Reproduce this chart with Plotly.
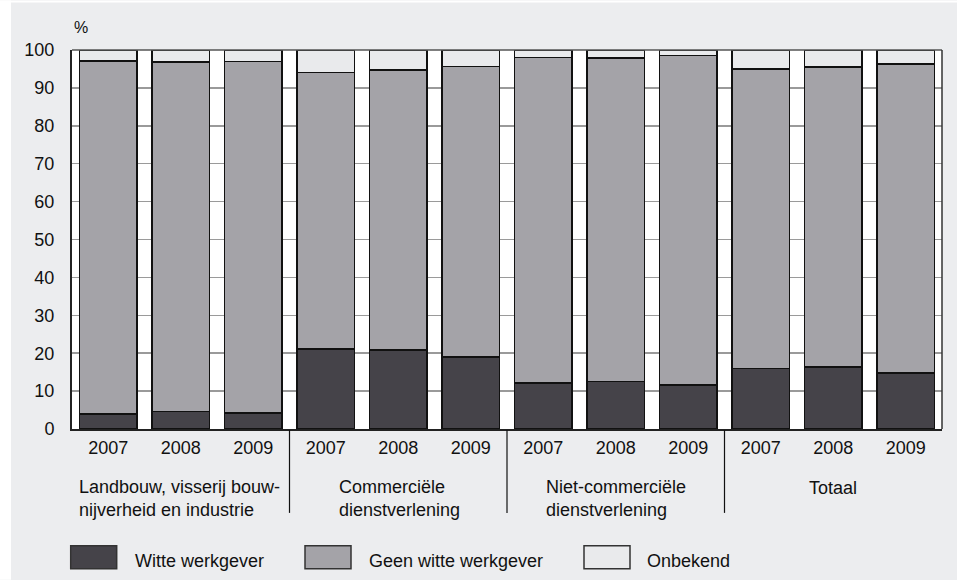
import plotly.graph_objects as go

years = ["2007", "2008", "2009"] * 4
groups = ["Landbouw, visserij bouw-<br>nijverheid en industrie",
          "Commerciële<br>dienstverlening",
          "Niet-commerciële<br>dienstverlening",
          "Totaal"]
witte = [4.0, 4.6, 4.2, 21.1, 20.8, 19.0, 12.1, 12.6, 11.6, 16.0, 16.3, 14.8]
geen_cum = [97.1, 96.9, 97.0, 94.0, 94.7, 95.7, 98.0, 97.9, 98.5, 95.0, 95.5, 96.3]
geen = [round(c - w, 1) for c, w in zip(geen_cum, witte)]
onbekend = [round(100 - c, 1) for c in geen_cum]
series_names = ["Witte werkgever", "Geen witte werkgever", "Onbekend"]
series_vals = [witte, geen, onbekend]
colors = ["#454349", "#a4a3a8", "#e9eaec"]
yticks = list(range(0, 101, 10))

FONT = "Liberation Sans, Arial, sans-serif"
FS = 18
W, H = 957, 580
L, R, T, B = 72, 15, 49.5, 151
PW, PH = W - L - R, H - T - B

def px_x(px):
    return (px - L) / PW

def px_y(py):
    return (H - B - py) / PH

xs = list(range(len(years)))
fig = go.Figure()
for name, vals, col in zip(series_names, series_vals, colors):
    fig.add_trace(go.Bar(x=xs, y=vals, name=name, marker=dict(color=col, line=dict(color="#111111", width=1.5)),
                         showlegend=False))

shapes = []
annotations = []
# white page strips (top and left)
shapes.append(dict(type="rect", xref="paper", yref="paper", x0=px_x(0), x1=px_x(W), y0=px_y(2), y1=px_y(0),
                   fillcolor="white", line=dict(width=0), layer="below"))
shapes.append(dict(type="rect", xref="paper", yref="paper", x0=px_x(0), x1=px_x(11), y0=px_y(H), y1=px_y(0),
                   fillcolor="white", line=dict(width=0), layer="below"))
# group separators
for g in range(1, 4):
    shapes.append(dict(type="line", xref="x", yref="paper", x0=g * 3 - 0.5, x1=g * 3 - 0.5,
                       y0=px_y(430), y1=px_y(513), line=dict(color="#111111", width=1.2)))
# group labels
offsets = [0.065, 0.65, 0.51, None]
for g, (lab, off) in enumerate(zip(groups, offsets)):
    if off is None:
        annotations.append(dict(text=lab, xref="x", yref="paper", x=g * 3 + 1, y=px_y(488), xanchor="center",
                                yanchor="middle", showarrow=False, font=dict(family=FONT, size=FS, color="#111")))
    else:
        annotations.append(dict(text=lab, xref="x", yref="paper", x=g * 3 - 0.5 + off, y=px_y(499), xanchor="left",
                                yanchor="middle", align="left", showarrow=False,
                                font=dict(family=FONT, size=FS, color="#111")))
# % label
annotations.append(dict(text="%", xref="paper", yref="paper", x=px_x(72), y=px_y(27), xanchor="left", yanchor="middle",
                        showarrow=False, font=dict(family=FONT, size=16, color="#111")))
# legend
leg_pos = [(70.7, 133), (305, 366.7), (584, 645)]
for (sx, tx), name, col in zip(leg_pos, series_names, colors):
    shapes.append(dict(type="rect", xref="paper", yref="paper", x0=px_x(sx), x1=px_x(sx + 46), y0=px_y(569),
                       y1=px_y(546), fillcolor=col, line=dict(color="#333333", width=1.5)))
    annotations.append(dict(text=name, xref="paper", yref="paper", x=px_x(tx), y=px_y(561), xanchor="left",
                            yanchor="middle", showarrow=False, font=dict(family=FONT, size=FS, color="#111")))

fig.update_layout(
    width=W, height=H, margin=dict(l=L, r=R, t=T, b=B, pad=0),
    paper_bgcolor="#ecedef", plot_bgcolor="white",
    barmode="stack", bargap=0.21,
    shapes=shapes, annotations=annotations,
    font=dict(family=FONT, size=FS, color="#111"),
)
fig.update_xaxes(range=[-0.5, 11.5], tickvals=xs, ticktext=years, showgrid=False, showline=True,
                 linecolor="#222", linewidth=2, mirror=False, ticks="", ticklabelstandoff=1,
                 tickfont=dict(family=FONT, size=FS, color="#111"), fixedrange=True)
fig.update_yaxes(range=[0, 100], tickvals=yticks, showgrid=True, gridcolor="#9a9a9a", gridwidth=1.5,
                 showline=True, linecolor="#222", linewidth=2, mirror=False, ticks="", ticklabelstandoff=12,
                 zeroline=False, tickfont=dict(family=FONT, size=FS, color="#111"), fixedrange=True)
# top and right border
fig.add_shape(type="line", xref="paper", yref="paper", x0=0, x1=1, y0=1, y1=1, line=dict(color="#555", width=1.5))
fig.add_shape(type="line", xref="paper", yref="paper", x0=1, x1=1, y0=0, y1=1, line=dict(color="#333", width=1.5))

fig.write_html("out.html", config={"displayModeBar": False, "staticPlot": True},
               post_script="document.body.style.margin='0';document.body.style.overflow='hidden';")
